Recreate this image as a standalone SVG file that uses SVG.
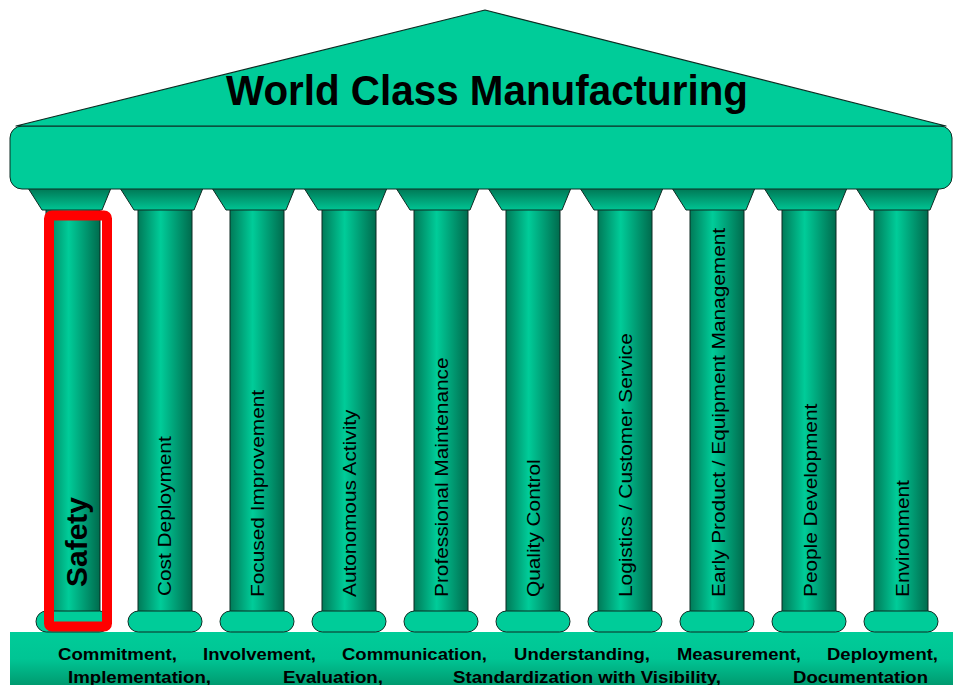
<svg xmlns="http://www.w3.org/2000/svg" xmlns:xlink="http://www.w3.org/1999/xlink" width="953" height="685" viewBox="0 0 953 685">
<defs>
<linearGradient id="gShaft" x1="0" y1="0" x2="1" y2="0">
<stop offset="0" stop-color="#007a58"/>
<stop offset="0.42" stop-color="#00cc99"/>
<stop offset="1" stop-color="#006b4d"/>
</linearGradient>
<linearGradient id="gCap" x1="0" y1="0" x2="0" y2="1">
<stop offset="0" stop-color="#007553"/>
<stop offset="1" stop-color="#00c594"/>
</linearGradient>
<linearGradient id="gBand" x1="0" y1="0" x2="0" y2="1">
<stop offset="0" stop-color="#00cc99"/>
<stop offset="0.45" stop-color="#00c594"/>
<stop offset="1" stop-color="#008f66"/>
</linearGradient>
<g id="column">
<rect x="-27" y="209" width="54" height="403" fill="url(#gShaft)" stroke="#0d2b22" stroke-width="1"/>
<rect x="-37" y="611" width="74" height="21" rx="10.5" fill="#00cc99" stroke="#0d2b22" stroke-width="1"/>
<polygon points="-45,188 38,188 29,210 -31,210" fill="url(#gCap)" stroke="#0d2b22" stroke-width="1"/>
</g>
<style>
.lbl{font-family:"Liberation Sans",Arial,sans-serif;font-size:18.6px;fill:#000}
.lblb{font-family:"Liberation Sans",Arial,sans-serif;font-size:30px;font-weight:bold;fill:#000}
.base{font-family:"Liberation Sans",Arial,sans-serif;font-size:17px;font-weight:bold;fill:#000}
.title{font-family:"Liberation Sans",Arial,sans-serif;font-size:42px;font-weight:bold;fill:#000}
</style>
</defs>
<rect width="953" height="685" fill="#ffffff"/>

<g id="foundation">
<rect x="10" y="632" width="950" height="60" fill="url(#gBand)"/>
<text class="base" x="58" y="660" textLength="119" lengthAdjust="spacingAndGlyphs">Commitment,</text>
<text class="base" x="203" y="660" textLength="113" lengthAdjust="spacingAndGlyphs">Involvement,</text>
<text class="base" x="342" y="660" textLength="145" lengthAdjust="spacingAndGlyphs">Communication,</text>
<text class="base" x="514" y="660" textLength="136" lengthAdjust="spacingAndGlyphs">Understanding,</text>
<text class="base" x="677" y="660" textLength="124" lengthAdjust="spacingAndGlyphs">Measurement,</text>
<text class="base" x="827" y="660" textLength="111" lengthAdjust="spacingAndGlyphs">Deployment,</text>
<text class="base" x="68" y="683" textLength="143" lengthAdjust="spacingAndGlyphs">Implementation,</text>
<text class="base" x="283" y="683" textLength="100" lengthAdjust="spacingAndGlyphs">Evaluation,</text>
<text class="base" x="453" y="683" textLength="268" lengthAdjust="spacingAndGlyphs">Standardization with Visibility,</text>
<text class="base" x="793" y="683" textLength="135" lengthAdjust="spacingAndGlyphs">Documentation</text>
</g>

<g id="col-safety" transform="translate(73,0)"><use xlink:href="#column"/><text class="lblb" transform="translate(14,587) rotate(-90)">Safety</text></g>
<g id="col-cost" transform="translate(165,0)"><use xlink:href="#column"/><text class="lbl" transform="translate(6,596) rotate(-90) scale(1.12,1)">Cost Deployment</text></g>
<g id="col-focused" transform="translate(257,0)"><use xlink:href="#column"/><text class="lbl" transform="translate(7,597) rotate(-90) scale(1.12,1)">Focused Improvement</text></g>
<g id="col-autonomous" transform="translate(349,0)"><use xlink:href="#column"/><text class="lbl" transform="translate(7,597) rotate(-90) scale(1.12,1)">Autonomous Activity</text></g>
<g id="col-professional" transform="translate(441,0)"><use xlink:href="#column"/><text class="lbl" transform="translate(7,597) rotate(-90) scale(1.12,1)">Professional Maintenance</text></g>
<g id="col-quality" transform="translate(533,0)"><use xlink:href="#column"/><text class="lbl" transform="translate(7,597) rotate(-90) scale(1.12,1)">Quality Control</text></g>
<g id="col-logistics" transform="translate(625,0)"><use xlink:href="#column"/><text class="lbl" transform="translate(7,597) rotate(-90) scale(1.12,1)">Logistics / Customer Service</text></g>
<g id="col-early" transform="translate(717,0)"><use xlink:href="#column"/><text class="lbl" transform="translate(8,597) rotate(-90) scale(1.12,1)">Early Product / Equipment Management</text></g>
<g id="col-people" transform="translate(809,0)"><use xlink:href="#column"/><text class="lbl" transform="translate(8,597) rotate(-90) scale(1.12,1)">People Development</text></g>
<g id="col-environment" transform="translate(901,0)"><use xlink:href="#column"/><text class="lbl" transform="translate(8,597) rotate(-90) scale(1.12,1)">Environment</text></g>

<g id="entablature">
<rect x="10" y="126" width="942" height="63" rx="12" fill="#00cc99" stroke="#0d2b22" stroke-width="1"/>
</g>
<g id="roof">
<polygon points="16,126 485,10 946,126" fill="#00cc99" stroke="#0d2b22" stroke-width="1.2" stroke-linejoin="round"/>
<text class="title" x="487" y="105" text-anchor="middle" textLength="522" lengthAdjust="spacingAndGlyphs">World Class Manufacturing</text>
</g>

<g id="highlight">
<rect x="49" y="215.5" width="58" height="411" rx="3" fill="none" stroke="#ff0000" stroke-width="10"/>
</g>
</svg>
